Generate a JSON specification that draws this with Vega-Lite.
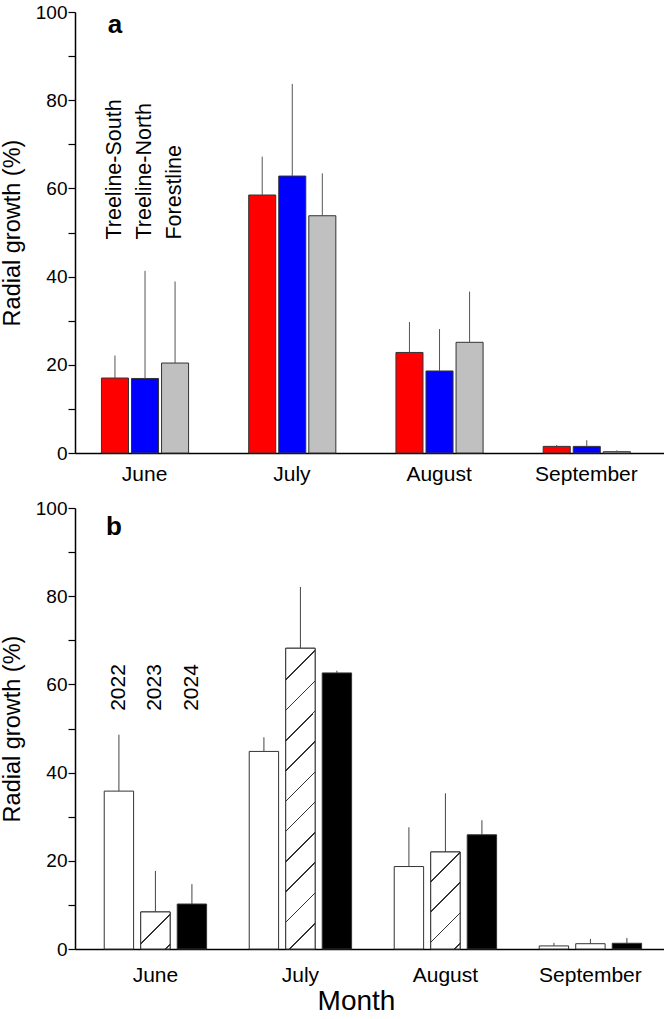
{
  "$schema": "https://vega.github.io/schema/vega-lite/v6.json",
  "padding": {"left": 0, "top": 3, "right": 1, "bottom": 0},
  "background": "white",
  "spacing": 55,
  "bounds": "flush",
  "resolve": {"scale": {"x": "independent", "xOffset": "independent", "y": "independent", "fill": "independent"}},
  "config": {
    "view": {"stroke": null},
    "font": "Liberation Sans",
    "axis": {"domainColor": "#000", "domainWidth": 1.5, "tickColor": "#000", "tickWidth": 1.2, "labelColor": "#000", "titleColor": "#000", "grid": false, "labelFont": "Liberation Sans", "titleFont": "Liberation Sans", "titleFontWeight": "normal"}
  },
  "datasets": {
    "a": [
      {"month": "June", "series": "Treeline-South", "value": 17.0, "upper": 22.1},
      {"month": "June", "series": "Treeline-North", "value": 16.9, "upper": 41.3},
      {"month": "June", "series": "Forestline", "value": 20.4, "upper": 38.9},
      {"month": "July", "series": "Treeline-South", "value": 58.5, "upper": 67.2},
      {"month": "July", "series": "Treeline-North", "value": 62.8, "upper": 83.7},
      {"month": "July", "series": "Forestline", "value": 53.8, "upper": 63.4},
      {"month": "August", "series": "Treeline-South", "value": 22.8, "upper": 29.7},
      {"month": "August", "series": "Treeline-North", "value": 18.6, "upper": 28.1},
      {"month": "August", "series": "Forestline", "value": 25.1, "upper": 36.6},
      {"month": "September", "series": "Treeline-South", "value": 1.5, "upper": 1.8},
      {"month": "September", "series": "Treeline-North", "value": 1.5, "upper": 2.9},
      {"month": "September", "series": "Forestline", "value": 0.3, "upper": 0.6}
    ],
    "b": [
      {"month": "June", "year": "2022", "value": 35.8, "upper": 48.6},
      {"month": "June", "year": "2023", "value": 8.4, "upper": 17.7},
      {"month": "June", "year": "2024", "value": 10.2, "upper": 14.7},
      {"month": "July", "year": "2022", "value": 44.8, "upper": 48.0},
      {"month": "July", "year": "2023", "value": 68.2, "upper": 82.1},
      {"month": "July", "year": "2024", "value": 62.6, "upper": 63.1},
      {"month": "August", "year": "2022", "value": 18.7, "upper": 27.6},
      {"month": "August", "year": "2023", "value": 22.0, "upper": 35.3},
      {"month": "August", "year": "2024", "value": 25.9, "upper": 29.2},
      {"month": "September", "year": "2022", "value": 0.7, "upper": 1.4},
      {"month": "September", "year": "2023", "value": 1.2, "upper": 2.3},
      {"month": "September", "year": "2024", "value": 1.3, "upper": 2.5}
    ]
  },
  "vconcat": [
    {
      "width": 589,
      "height": 441,
      "data": {"name": "a"},
      "encoding": {
        "x": {"field": "month", "type": "nominal", "sort": null, "scale": {"domain": ["June", "July", "August", "September"], "paddingInner": 0, "paddingOuter": 0}, "axis": {"title": null, "ticks": false, "tickSize": 0, "labelFontSize": 21, "labelPadding": 10, "labelAngle": 0, "labelOffset": -4}},
        "xOffset": {"field": "series", "type": "nominal", "scale": {"domain": ["Treeline-South", "Treeline-North", "Forestline"], "paddingInner": 0.1, "paddingOuter": 1.0, "align": 0.44}}
      },
      "layer": [
        {
          "mark": {"type": "bar", "stroke": "#333", "strokeWidth": 1},
          "encoding": {
            "y": {"field": "value", "type": "quantitative", "scale": {"domain": [0, 100], "nice": false}, "axis": {"title": "Radial growth (%)", "titleFontSize": 23.5, "titlePadding": 11, "labelFontSize": 19, "labelPadding": 1, "tickSize": 7, "values": [0, 10, 20, 30, 40, 50, 60, 70, 80, 90, 100], "labelExpr": "datum.value % 20 === 0 ? datum.label : ''"}},
            "fill": {"field": "series", "type": "nominal", "scale": {"domain": ["Treeline-South", "Treeline-North", "Forestline"], "range": ["#ff0000", "#0000ff", "#c0c0c0"]}, "legend": null}
          }
        },
        {
          "mark": {"type": "rule", "color": "#555", "strokeWidth": 1},
          "encoding": {"y": {"field": "value", "type": "quantitative"}, "y2": {"field": "upper"}}
        },
        {
          "transform": [{"filter": "datum.month === 'June'"}],
          "mark": {"type": "text", "angle": 270, "align": "left", "baseline": "middle", "fontSize": 21.5, "color": "#000"},
          "encoding": {"y": {"datum": 48.4, "type": "quantitative"}, "text": {"field": "series"}}
        },
        {
          "transform": [{"filter": "datum.month === 'June' && datum.series === 'Treeline-South'"}],
          "mark": {"type": "text", "align": "center", "baseline": "alphabetic", "fontSize": 26, "fontWeight": "bold", "color": "#000"},
          "encoding": {"y": {"datum": 95.2, "type": "quantitative"}, "text": {"value": "a"}}
        }
      ]
    },
    {
      "width": 589,
      "height": 441,
      "data": {"name": "b"},
      "encoding": {
        "x": {"field": "month", "type": "nominal", "sort": null, "scale": {"domain": ["June", "July", "August", "September"], "paddingInner": 0, "paddingOuter": 0.031, "align": 0.88}, "axis": {"title": "Month", "titleFontSize": 28, "titlePadding": 2, "titleX": 281, "ticks": false, "tickSize": 0, "labelFontSize": 21, "labelPadding": 15, "labelAngle": 0}},
        "xOffset": {"field": "year", "type": "nominal", "scale": {"domain": ["2022", "2023", "2024"], "paddingInner": 0.195, "paddingOuter": 0.584}}
      },
      "layer": [
        {
          "mark": {"type": "bar", "stroke": "#333", "strokeWidth": 1},
          "encoding": {
            "y": {"field": "value", "type": "quantitative", "scale": {"domain": [0, 100], "nice": false}, "axis": {"title": "Radial growth (%)", "titleFontSize": 23.5, "titlePadding": 11, "labelFontSize": 19, "labelPadding": 1, "tickSize": 7, "values": [0, 10, 20, 30, 40, 50, 60, 70, 80, 90, 100], "labelExpr": "datum.value % 20 === 0 ? datum.label : ''"}},
            "fill": {"field": "year", "type": "nominal", "scale": {"domain": ["2022", "2023", "2024"], "range": ["#ffffff", "#ffffff", "#000000"]}, "legend": null}
          }
        },
        {
          "transform": [{"filter": "datum.year === '2023' && datum.month === 'June'"}],
          "mark": {"type": "bar", "stroke": "#333", "strokeWidth": 1, "fill": {"gradient": "linear", "x1": 0, "y1": 0, "x2": 0.87345, "y2": 1.10042, "stops": [
            {"offset": 0, "color": "#ffffff"}, {"offset": 0.4657, "color": "#ffffff"}, {"offset": 0.4657, "color": "#333333"}, {"offset": 0.4897, "color": "#333333"}, {"offset": 0.4897, "color": "#ffffff"},
            {"offset": 0.9218, "color": "#ffffff"}, {"offset": 0.9218, "color": "#333333"}, {"offset": 0.9458, "color": "#333333"}, {"offset": 0.9458, "color": "#ffffff"}, {"offset": 1, "color": "#ffffff"}]}},
          "encoding": {"y": {"field": "value", "type": "quantitative"}}
        },
        {
          "transform": [{"filter": "datum.year === '2023' && datum.month === 'July'"}],
          "mark": {"type": "bar", "stroke": "#333", "strokeWidth": 1, "fill": {"gradient": "linear", "x1": 0, "y1": 0, "x2": 0.10629, "y2": 1.08738, "stops": [
            {"offset": 0, "color": "#ffffff"},
            {"offset": 0.09349, "color": "#ffffff"}, {"offset": 0.09349, "color": "#333333"}, {"offset": 0.09829, "color": "#333333"}, {"offset": 0.09829, "color": "#ffffff"},
            {"offset": 0.18527, "color": "#ffffff"}, {"offset": 0.18527, "color": "#333333"}, {"offset": 0.19007, "color": "#333333"}, {"offset": 0.19007, "color": "#ffffff"},
            {"offset": 0.27704, "color": "#ffffff"}, {"offset": 0.27704, "color": "#333333"}, {"offset": 0.28184, "color": "#333333"}, {"offset": 0.28184, "color": "#ffffff"},
            {"offset": 0.36881, "color": "#ffffff"}, {"offset": 0.36881, "color": "#333333"}, {"offset": 0.37361, "color": "#333333"}, {"offset": 0.37361, "color": "#ffffff"},
            {"offset": 0.46059, "color": "#ffffff"}, {"offset": 0.46059, "color": "#333333"}, {"offset": 0.46539, "color": "#333333"}, {"offset": 0.46539, "color": "#ffffff"},
            {"offset": 0.55236, "color": "#ffffff"}, {"offset": 0.55236, "color": "#333333"}, {"offset": 0.55716, "color": "#333333"}, {"offset": 0.55716, "color": "#ffffff"},
            {"offset": 0.64413, "color": "#ffffff"}, {"offset": 0.64413, "color": "#333333"}, {"offset": 0.64893, "color": "#333333"}, {"offset": 0.64893, "color": "#ffffff"},
            {"offset": 0.73591, "color": "#ffffff"}, {"offset": 0.73591, "color": "#333333"}, {"offset": 0.74071, "color": "#333333"}, {"offset": 0.74071, "color": "#ffffff"},
            {"offset": 0.82768, "color": "#ffffff"}, {"offset": 0.82768, "color": "#333333"}, {"offset": 0.83248, "color": "#333333"}, {"offset": 0.83248, "color": "#ffffff"},
            {"offset": 0.91946, "color": "#ffffff"}, {"offset": 0.91946, "color": "#333333"}, {"offset": 0.92426, "color": "#333333"}, {"offset": 0.92426, "color": "#ffffff"},
            {"offset": 1, "color": "#ffffff"}]}},
          "encoding": {"y": {"field": "value", "type": "quantitative"}}
        },
        {
          "transform": [{"filter": "datum.year === '2023' && datum.month === 'August'"}],
          "mark": {"type": "bar", "stroke": "#333", "strokeWidth": 1, "fill": {"gradient": "linear", "x1": 0, "y1": 0, "x2": 0.36165, "y2": 1.19345, "stops": [
            {"offset": 0, "color": "#ffffff"},
            {"offset": 0.22879, "color": "#ffffff"}, {"offset": 0.22879, "color": "#333333"}, {"offset": 0.24139, "color": "#333333"}, {"offset": 0.24139, "color": "#ffffff"},
            {"offset": 0.46847, "color": "#ffffff"}, {"offset": 0.46847, "color": "#333333"}, {"offset": 0.48107, "color": "#333333"}, {"offset": 0.48107, "color": "#ffffff"},
            {"offset": 0.70814, "color": "#ffffff"}, {"offset": 0.70814, "color": "#333333"}, {"offset": 0.72074, "color": "#333333"}, {"offset": 0.72074, "color": "#ffffff"},
            {"offset": 0.94782, "color": "#ffffff"}, {"offset": 0.94782, "color": "#333333"}, {"offset": 0.96042, "color": "#333333"}, {"offset": 0.96042, "color": "#ffffff"},
            {"offset": 1, "color": "#ffffff"}]}},
          "encoding": {"y": {"field": "value", "type": "quantitative"}}
        },
        {
          "mark": {"type": "rule", "color": "#444", "strokeWidth": 1},
          "encoding": {"y": {"field": "value", "type": "quantitative"}, "y2": {"field": "upper"}}
        },
        {
          "transform": [{"filter": "datum.month === 'June'"}],
          "mark": {"type": "text", "angle": 270, "align": "left", "baseline": "middle", "fontSize": 21, "color": "#000"},
          "encoding": {"y": {"datum": 54, "type": "quantitative"}, "text": {"field": "year"}}
        },
        {
          "transform": [{"filter": "datum.month === 'June' && datum.year === '2022'"}],
          "mark": {"type": "text", "align": "center", "baseline": "alphabetic", "dx": -5, "fontSize": 26, "fontWeight": "bold", "color": "#000"},
          "encoding": {"y": {"datum": 93.9, "type": "quantitative"}, "text": {"value": "b"}}
        }
      ]
    }
  ]
}
